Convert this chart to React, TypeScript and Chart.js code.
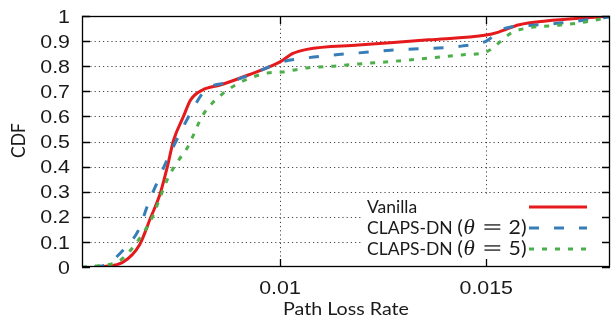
import React, { useEffect, useRef } from "react";
import { Chart, registerables } from "chart.js";

Chart.register(...registerables);

// ---- data ----
const vanillaLoss = [0.00565, 0.0062, 0.0066, 0.00686, 0.0071, 0.00727, 0.00742, 0.00766, 0.00783, 0.00812, 0.00855, 0.00923, 0.01, 0.0103, 0.01065, 0.0119, 0.0136, 0.015, 0.0153, 0.0158, 0.01645, 0.0177, 0.018];
const vanillaCdf = [0, 0.02, 0.09, 0.195, 0.295, 0.4, 0.505, 0.6, 0.665, 0.705, 0.725, 0.765, 0.817, 0.85, 0.867, 0.884, 0.905, 0.924, 0.936, 0.965, 0.98, 0.996, 1];

const dn2Loss = [0.0055, 0.0058, 0.0062, 0.00657, 0.00681, 0.00705, 0.00727, 0.00758, 0.00787, 0.00819, 0.00879, 0.00944, 0.01005, 0.01065, 0.0113, 0.0119, 0.0128, 0.0144, 0.015, 0.0154, 0.0162, 0.0168, 0.0174, 0.018];
const dn2Cdf = [0, 0.01, 0.068, 0.147, 0.255, 0.347, 0.43, 0.534, 0.625, 0.705, 0.737, 0.777, 0.817, 0.833, 0.845, 0.853, 0.865, 0.88, 0.9, 0.948, 0.964, 0.972, 0.984, 0.996];

const dn5Loss = [0.0052, 0.0056, 0.006, 0.0062, 0.00657, 0.00691, 0.0071, 0.0073, 0.00756, 0.00775, 0.00788, 0.00802, 0.00816, 0.00836, 0.0086, 0.00884, 0.00915, 0.0097, 0.01005, 0.01065, 0.0113, 0.0119, 0.0128, 0.0144, 0.015, 0.0153, 0.0156, 0.016, 0.0168, 0.0174, 0.018];
const dn5Cdf = [0, 0.005, 0.016, 0.036, 0.108, 0.2, 0.28, 0.36, 0.43, 0.474, 0.518, 0.57, 0.613, 0.653, 0.689, 0.717, 0.745, 0.773, 0.777, 0.793, 0.8, 0.809, 0.82, 0.845, 0.857, 0.892, 0.932, 0.952, 0.964, 0.976, 0.996];

const seriesNames = ["Vanilla", "CLAPS-DN (θ = 2)", "CLAPS-DN (θ = 5)"];
const yTickValues = [0, 0.1, 0.2, 0.3, 0.4, 0.5, 0.6, 0.7, 0.8, 0.9, 1];
const yTickLabels = ["0", "0.1", "0.2", "0.3", "0.4", "0.5", "0.6", "0.7", "0.8", "0.9", "1"];
const xTickValues = [0.01, 0.015];
const xTickLabels = ["0.01", "0.015"];
const xTitle = "Path Loss Rate";
const yTitle = "CDF";
const xMin = 0.0052;
const xMax = 0.018;

const RED = "rgb(228,26,28)";
const BLUE = "rgb(55,126,184)";
const GREEN = "rgb(77,175,74)";

const TICK_FONT = "18.6px 'Liberation Sans', Arial, sans-serif";
const TEXT_FONT = "16.5px Lato, sans-serif";
const LEGEND_FONT = "17.5px Lato, sans-serif";
const MATH_IT = "italic 20px 'Liberation Serif', serif";
const MATH_EQ = "22px 'DejaVu Sans', sans-serif";
const MATH_NUM = "18.5px Lato, sans-serif";
const STRETCH = 1.15;

function drawText(ctx: CanvasRenderingContext2D, s: string, x: number, y: number, align: CanvasTextAlign, font: string, sx: number, color = "#1a1a1a") {
  ctx.save();
  ctx.translate(x, y);
  ctx.scale(sx, 1);
  ctx.font = font;
  ctx.fillStyle = color;
  ctx.textAlign = align;
  ctx.textBaseline = "alphabetic";
  ctx.fillText(s, 0, 0);
  ctx.restore();
}

function fitScale(ctx: CanvasRenderingContext2D, s: string, font: string, target: number) {
  ctx.save();
  ctx.font = font;
  const w = ctx.measureText(s).width;
  ctx.restore();
  return w > 0 ? target / w : 1;
}

// legend label: text before "(" in the text font, then the math group "(θ = n)"
function drawLabel(ctx: CanvasRenderingContext2D, name: string, x: number, y: number) {
  const p = name.indexOf("(");
  if (p < 0) {
    drawText(ctx, name, x, y, "left", LEGEND_FONT, 1);
    return;
  }
  const head = name.slice(0, p);
  ctx.font = LEGEND_FONT;
  const wHead = ctx.measureText(head).width;
  drawText(ctx, head, x, y, "left", LEGEND_FONT, 1);
  const rest = name.slice(p);
  const th = rest.indexOf("θ");
  const eq = rest.indexOf("=");
  const parts: [string, string, number][] = [
    [rest.slice(0, th), MATH_NUM, 0.5],
    [rest.slice(th, th + 1), MATH_IT, 6],
    [rest.slice(eq, eq + 1), MATH_EQ, 5],
    [rest.slice(eq + 1).trim(), MATH_NUM, 0],
  ];
  let total = 0;
  const widths = parts.map(([s, f, g]) => {
    ctx.font = f;
    const w = ctx.measureText(s).width;
    total += w + g;
    return w;
  });
  const avail = 165 - wHead;
  const g = Math.max(0.85, Math.min(1.15, avail / total));
  ctx.save();
  ctx.translate(x + wHead, y);
  ctx.scale(g, 1);
  let cx = 0;
  parts.forEach(([s, f, gap], i) => {
    drawText(ctx, s, cx, 0, "left", f, 1, i === 2 ? "#555" : "#1a1a1a");
    cx += widths[i] + gap;
  });
  ctx.restore();
}

const decorPlugin = {
  id: "decor",
  beforeDatasetsDraw(chart: any) {
    const { ctx, chartArea, scales } = chart;
    const { left, right, top, bottom } = chartArea;
    ctx.save();
    ctx.strokeStyle = "rgba(40,40,40,0.85)";
    ctx.lineWidth = 1;
    ctx.setLineDash([1.2, 3]);
    yTickValues.forEach((v) => {
      if (v <= 0 || v >= 1) return;
      const py = Math.round(scales.y.getPixelForValue(v)) + 0.5;
      ctx.beginPath();
      ctx.moveTo(left, py);
      ctx.lineTo(right, py);
      ctx.stroke();
    });
    xTickValues.forEach((v) => {
      const px = Math.round(scales.x.getPixelForValue(v)) + 0.5;
      ctx.beginPath();
      ctx.moveTo(px, top);
      ctx.lineTo(px, bottom);
      ctx.stroke();
    });
    ctx.restore();
  },
  afterDatasetsDraw(chart: any) {
    const { ctx, chartArea, scales } = chart;
    const { left, right, top, bottom } = chartArea;

    // legend (opaque box)
    ctx.save();
    ctx.fillStyle = "#fff";
    ctx.fillRect(left + 281, bottom - 71, right - left - 281 - 10, 64);
    const rows = [bottom - 60, bottom - 39, bottom - 18];
    const colors = [RED, BLUE, GREEN];
    const dashes = [[], [10, 15], [5, 8]];
    const textX = left + 285;
    rows.forEach((ry, i) => {
      drawLabel(ctx, seriesNames[i], textX, ry + 6);
      ctx.save();
      ctx.strokeStyle = colors[i];
      ctx.lineWidth = 3;
      ctx.setLineDash(dashes[i]);
      ctx.beginPath();
      ctx.moveTo(right - 81, ry);
      ctx.lineTo(right - 23, ry);
      ctx.stroke();
      ctx.restore();
    });
    ctx.restore();

    // frame and inward ticks
    ctx.save();
    ctx.strokeStyle = "#000";
    ctx.lineWidth = 1.3;
    ctx.setLineDash([]);
    ctx.strokeRect(left + 0.5, top + 0.5, right - left - 1, bottom - top - 1);
    ctx.beginPath();
    yTickValues.forEach((v) => {
      const py = Math.round(scales.y.getPixelForValue(v)) + 0.5;
      ctx.moveTo(left, py);
      ctx.lineTo(left + 8, py);
      ctx.moveTo(right - 8, py);
      ctx.lineTo(right, py);
    });
    xTickValues.forEach((v) => {
      const px = Math.round(scales.x.getPixelForValue(v)) + 0.5;
      ctx.moveTo(px, bottom);
      ctx.lineTo(px, bottom - 8);
      ctx.moveTo(px, top);
      ctx.lineTo(px, top + 8);
    });
    ctx.stroke();
    ctx.restore();

    // tick labels
    yTickValues.forEach((v, i) => {
      const py = scales.y.getPixelForValue(v);
      drawText(ctx, yTickLabels[i], left - 12, py + 6.6, "right", TICK_FONT, STRETCH);
    });
    xTickValues.forEach((v, i) => {
      const px = scales.x.getPixelForValue(v);
      drawText(ctx, xTickLabels[i], px, bottom + 27, "center", TICK_FONT, STRETCH);
    });

    // axis titles
    drawText(ctx, xTitle, (left + right) / 2, bottom + 48, "center", TEXT_FONT, fitScale(ctx, xTitle, TEXT_FONT, 126));
    ctx.save();
    ctx.translate(25, (top + bottom) / 2 - 1);
    ctx.rotate(-Math.PI / 2);
    ctx.scale(fitScale(ctx, yTitle, TEXT_FONT, 35), 1.2);
    drawText(ctx, yTitle, 0, 0, "center", TEXT_FONT, 1);
    ctx.restore();
  },
};

function toPoints(xs: number[], ys: number[]) {
  return xs.map((x, i) => ({ x, y: ys[i] }));
}

export default function App() {
  const ref = useRef<HTMLCanvasElement | null>(null);
  useEffect(() => {
    if (!ref.current) return;
    const chart = new Chart(ref.current, {
      type: "line",
      data: {
        datasets: [
          {
            label: seriesNames[0],
            data: toPoints(vanillaLoss, vanillaCdf),
            borderColor: RED,
            borderWidth: 3,
            pointRadius: 0,
            cubicInterpolationMode: "monotone",
            order: 3,
          },
          {
            label: seriesNames[1],
            data: toPoints(dn2Loss, dn2Cdf),
            borderColor: BLUE,
            borderWidth: 3,
            borderDash: [10, 15],
            pointRadius: 0,
            cubicInterpolationMode: "monotone",
            order: 2,
          },
          {
            label: seriesNames[2],
            data: toPoints(dn5Loss, dn5Cdf),
            borderColor: GREEN,
            borderWidth: 3,
            borderDash: [5, 8],
            pointRadius: 0,
            cubicInterpolationMode: "monotone",
            order: 1,
          },
        ],
      },
      options: {
        responsive: false,
        animation: false,
        devicePixelRatio: 1,
        layout: { padding: { left: 82, top: 16, right: 1, bottom: 55 } },
        plugins: { legend: { display: false }, tooltip: { enabled: false }, title: { display: false } },
        scales: {
          x: { type: "linear", min: xMin, max: xMax, display: false },
          y: { type: "linear", min: 0, max: 1, display: false },
        },
      },
      plugins: [decorPlugin],
    });
    return () => chart.destroy();
  }, []);
  return (
    <div style={{ position: "fixed", left: 0, top: 0, width: 611, height: 322, background: "#fff" }}>
      <canvas ref={ref} width={611} height={322} style={{ width: 611, height: 322, display: "block" }} />
    </div>
  );
}
